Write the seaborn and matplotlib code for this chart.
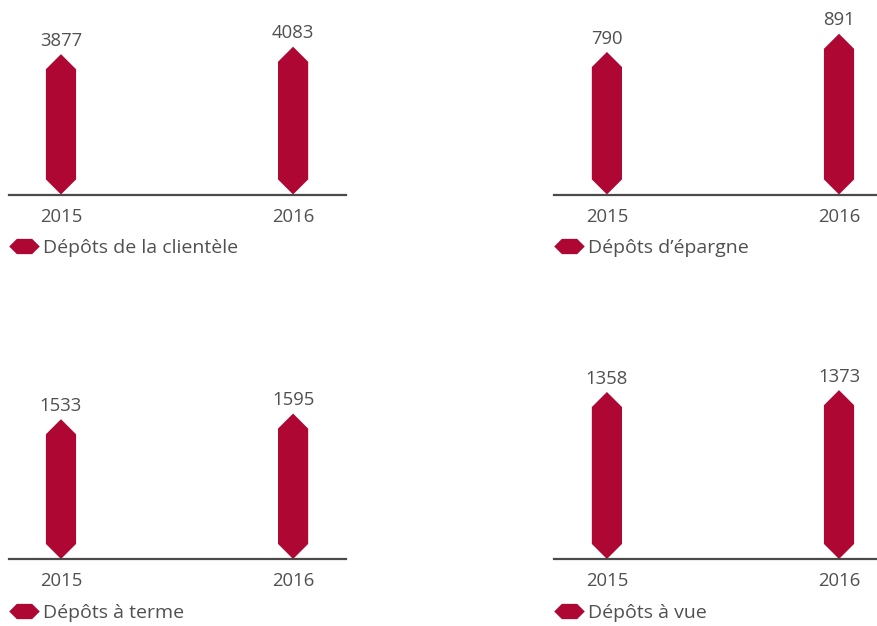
import matplotlib
matplotlib.use("Agg")
import matplotlib.pyplot as plt
from matplotlib.patches import Polygon
from matplotlib.lines import Line2D
import seaborn as sns
import pandas as pd

# ---- data ----
years = ["2015", "2016"]
titles = ["Dépôts de la clientèle", "Dépôts d’épargne", "Dépôts à terme", "Dépôts à vue"]
clientele = [3877, 4083]
epargne = [790, 891]
terme = [1533, 1595]
vue = [1358, 1373]
series = [clientele, epargne, terme, vue]

# ---- style ----
sns.set_theme(style="white")
plt.rcParams["font.family"] = ["Open Sans", "DejaVu Sans"]
BAR = "#AE0734"
TXT = "#505050"
AXC = "#4a4a4a"
FS = 13.3
FS_LEG = 14

W, H = 878, 626
fig = plt.figure(figsize=(W / 100, H / 100), dpi=100)

# layout in pixels: (left, right, baseline, top, y_max)
layouts = [
    (9, 346, 194.5, 0, 5373),
    (554, 878, 194.5, 0, 1078),
    (9, 346, 559, 360, 2182),
    (554, 878, 559, 360, 1618),
]
xlims = [(-0.224, 1.228), (-0.228, 1.168), (-0.224, 1.228), (-0.228, 1.168)]

hexv = [(-1, 0), (-0.5, 0.5), (0.5, 0.5), (1, 0), (0.5, -0.5), (-0.5, -0.5), (-1, 0)]

for i, (vals, title) in enumerate(zip(series, titles)):
    l, r, base, top, ymax = layouts[i]
    ax = fig.add_axes([l / W, (H - base) / H, (r - l) / W, (base - top) / H])
    df = pd.DataFrame({"year": years, "value": vals})
    sns.barplot(data=df, x="year", y="value", color=BAR, width=0.13, ax=ax,
                saturation=1, errorbar=None)
    ax.set_xlim(*xlims[i])
    ax.set_ylim(0, ymax)
    ax.set_xlabel("")
    ax.set_ylabel("")
    ax.set_yticks([])
    for s in ["top", "left", "right"]:
        ax.spines[s].set_visible(False)
    ax.spines["bottom"].set_color(AXC)
    ax.spines["bottom"].set_linewidth(1.6)
    ax.tick_params(axis="x", length=0, pad=9.5, labelsize=FS, labelcolor=TXT)
    ax.patch.set_alpha(0)

    # px per data unit in y
    p0 = ax.transData.transform((0, 0))
    p1 = ax.transData.transform((0, 1))
    ppu = p1[1] - p0[1]
    for rect, v in zip(list(ax.patches), vals):
        x0, w, h = rect.get_x(), rect.get_width(), rect.get_height()
        cx = x0 + w / 2
        wpx = ax.transData.transform((x0 + w, 0))[0] - ax.transData.transform((x0, 0))[0]
        d = (wpx / 2) / ppu
        poly = Polygon([(cx, 0), (x0 + w, d), (x0 + w, h - d), (cx, h),
                        (x0, h - d), (x0, d)], closed=True, facecolor=BAR,
                       edgecolor="none", clip_on=False)
        rect.set_visible(False)
        ax.add_patch(poly)
        ax.annotate(f"{v}", xy=(cx, h), xytext=(0, 6), textcoords="offset points",
                    ha="center", va="baseline", fontsize=FS, color=TXT,
                    annotation_clip=False)

    handle = Line2D([], [], marker=hexv, linestyle="none", color=BAR,
                    markersize=22, markeredgewidth=0)
    ly = base + 53.5
    fs_px = FS_LEG * 100 / 72
    ax.legend([handle], [title], loc="center left",
              bbox_to_anchor=(l / W, (H - ly) / H), bbox_transform=fig.transFigure,
              frameon=False, borderpad=0, borderaxespad=0,
              handlelength=30 / fs_px, handletextpad=4 / fs_px,
              fontsize=FS_LEG, labelcolor=TXT)

fig.savefig("out.png", dpi=100)
